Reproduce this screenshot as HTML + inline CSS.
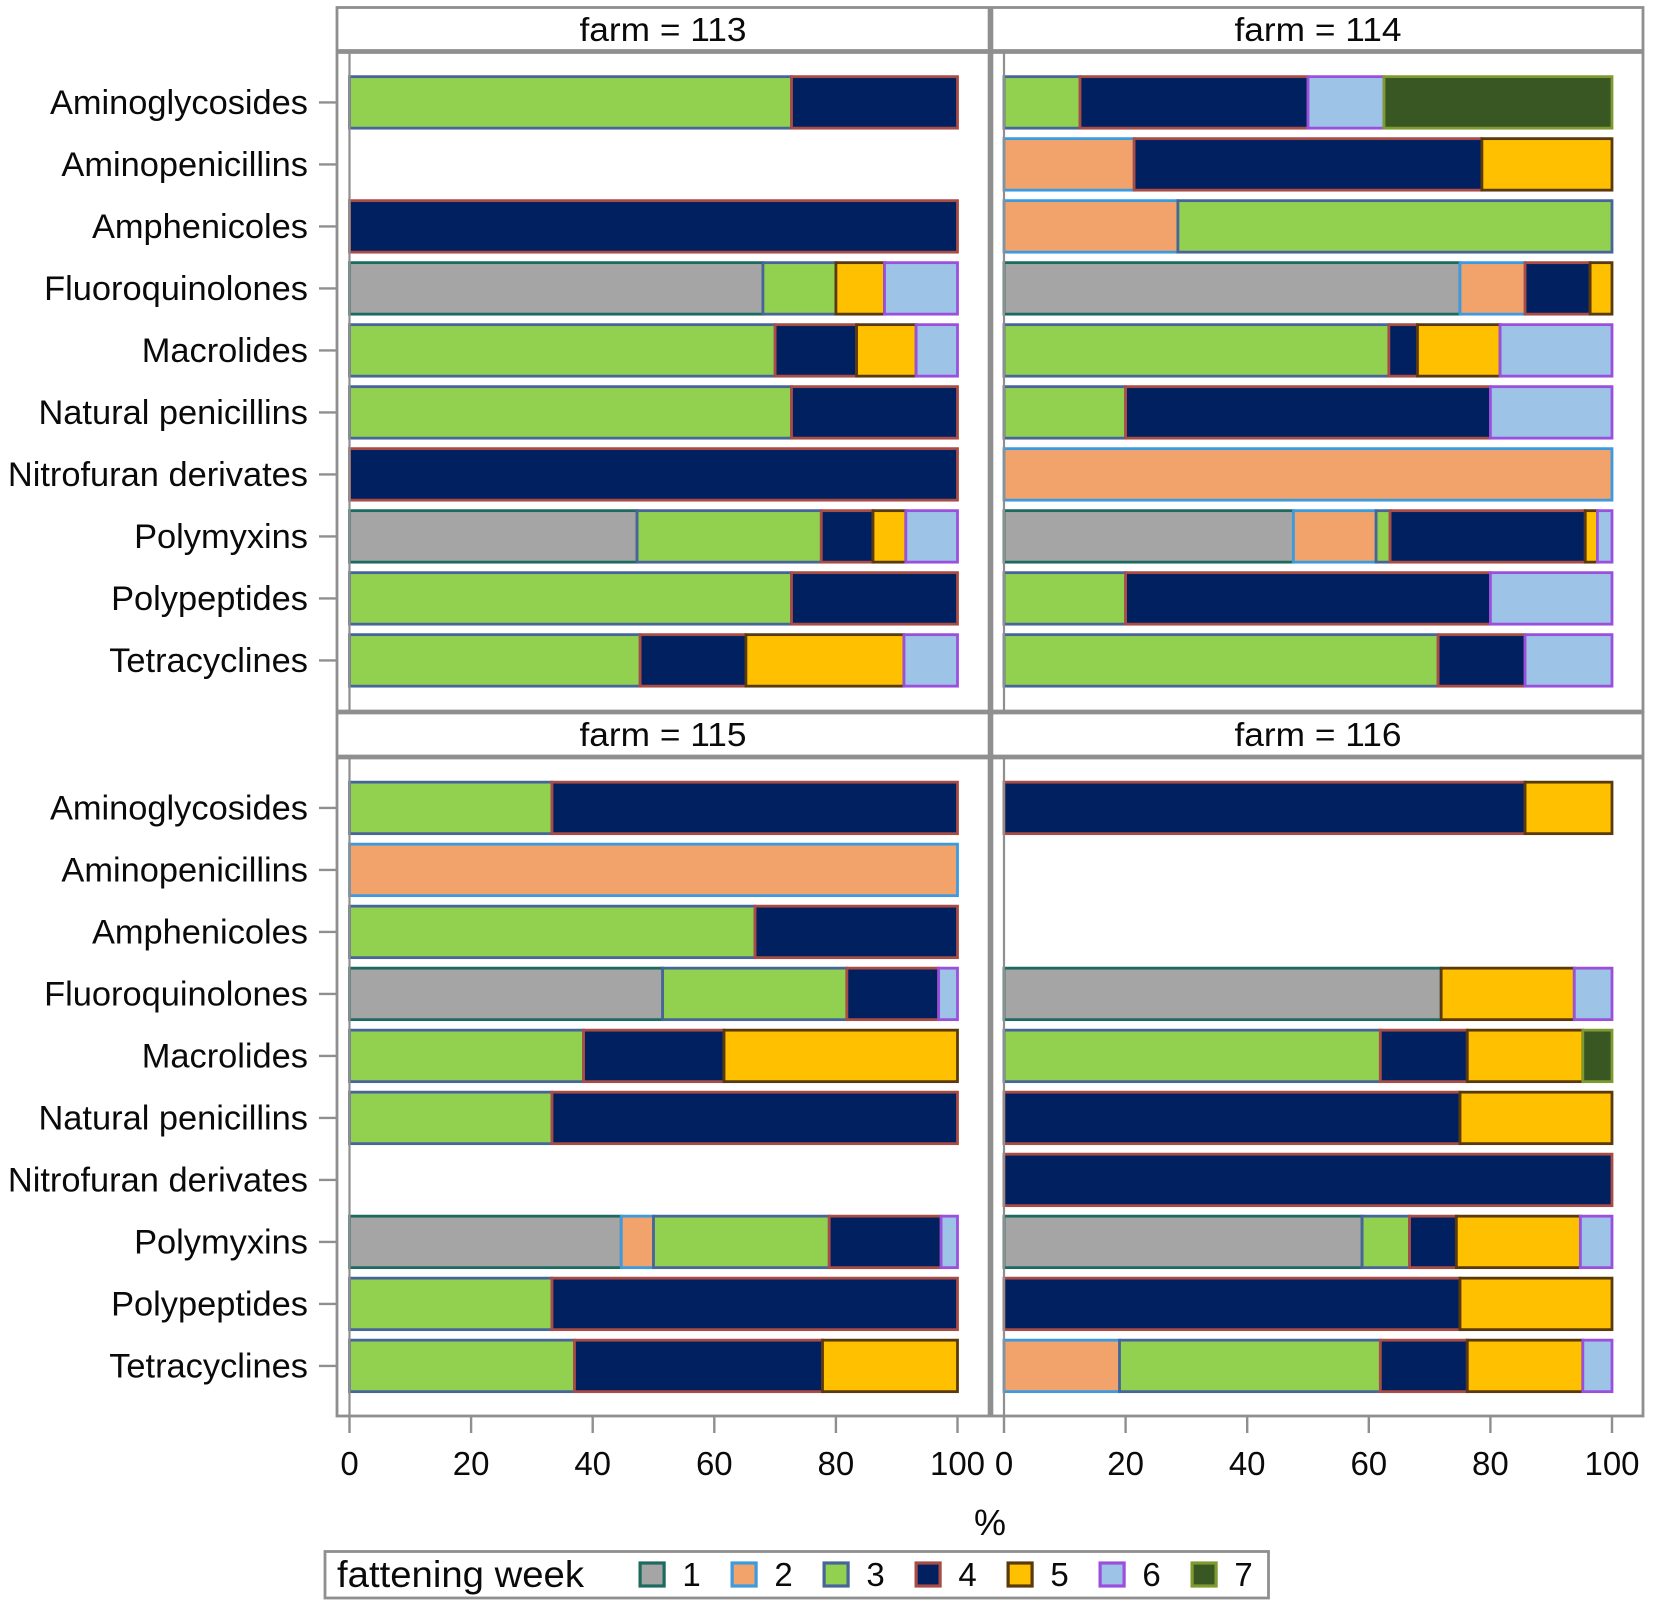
<!DOCTYPE html>
<html lang="en">
<head>
<meta charset="utf-8">
<title>Antibiotic use by fattening week and farm</title>
<style>
html,body{margin:0;padding:0;background:#fff;}
svg{display:block;}
text{font-family:"Liberation Sans",sans-serif;fill:#0a0a0a;}
</style>
</head>
<body>
<svg id="chart" xmlns="http://www.w3.org/2000/svg" width="1654" height="1609" viewBox="0 0 1654 1609">
  <rect x="0" y="0" width="1654" height="1609" fill="#ffffff"/>
  <g id="panels"></g>
  <g id="frame" fill="none" stroke="#8f8f8f">
    <rect x="337" y="7.5" width="1306" height="1408.5" stroke-width="2.8"/>
    <line x1="990.5" x2="990.5" y1="7" y2="1416" stroke-width="5.6"/>
    <line x1="336" x2="1644" y1="51.5" y2="51.5" stroke-width="4.8"/>
    <line x1="336" x2="1644" y1="712" y2="712" stroke-width="4.8"/>
    <line x1="336" x2="1644" y1="757" y2="757" stroke-width="4.8"/>
  </g>
  <text x="990" y="1535" font-size="36" text-anchor="middle">%</text>
  <g id="legend">
    <rect x="325" y="1551.5" width="943.5" height="46.5" fill="#fff" stroke="#8f8f8f" stroke-width="2.8"/>
    <text x="337" y="1587" font-size="37" textLength="247" lengthAdjust="spacingAndGlyphs">fattening week</text>
  </g>
</svg>
<script>
const categories = ["Aminoglycosides","Aminopenicillins","Amphenicoles","Fluoroquinolones","Macrolides","Natural penicillins","Nitrofuran derivates","Polymyxins","Polypeptides","Tetracyclines"];
const xTickValues = [0,20,40,60,80,100];
const weekLabels = ["1","2","3","4","5","6","7"];
const weekFills = ["#a5a5a5","#f2a36c","#92d050","#002060","#ffc000","#9dc3e6","#385723"];
const weekStrokes = ["#1c6a60","#3c9ade","#48659a","#a94c46","#5a3a0c","#9a50dc","#7f9a30"];

const farm113Week1 = [0,0,0,68,0,0,0,47.3,0,0];
const farm113Week2 = [0,0,0,0,0,0,0,0,0,0];
const farm113Week3 = [72.7,0,0,12,70,72.7,0,30.3,72.7,47.8];
const farm113Week4 = [27.3,0,100,0,13.4,27.3,100,8.5,27.3,17.4];
const farm113Week5 = [0,0,0,8,9.8,0,0,5.4,0,26];
const farm113Week6 = [0,0,0,12,6.8,0,0,8.5,0,8.8];
const farm113Week7 = [0,0,0,0,0,0,0,0,0,0];

const farm114Week1 = [0,0,0,75,0,0,0,47.6,0,0];
const farm114Week2 = [0,21.4,28.6,10.7,0,0,100,13.6,0,0];
const farm114Week3 = [12.5,0,71.4,0,63.3,20,0,2.3,20,71.4];
const farm114Week4 = [37.5,57.2,0,10.7,4.7,60,0,32.1,60,14.3];
const farm114Week5 = [0,21.4,0,3.6,13.6,0,0,2,0,0];
const farm114Week6 = [12.5,0,0,0,18.4,20,0,2.4,20,14.3];
const farm114Week7 = [37.5,0,0,0,0,0,0,0,0,0];

const farm115Week1 = [0,0,0,51.5,0,0,0,44.7,0,0];
const farm115Week2 = [0,100,0,0,0,0,0,5.3,0,0];
const farm115Week3 = [33.3,0,66.7,30.3,38.5,33.3,0,28.9,33.3,37];
const farm115Week4 = [66.7,0,33.3,15.1,23.1,66.7,0,18.4,66.7,40.8];
const farm115Week5 = [0,0,0,0,38.4,0,0,0,0,22.2];
const farm115Week6 = [0,0,0,3.1,0,0,0,2.7,0,0];
const farm115Week7 = [0,0,0,0,0,0,0,0,0,0];

const farm116Week1 = [0,0,0,71.9,0,0,0,58.9,0,0];
const farm116Week2 = [0,0,0,0,0,0,0,0,0,19];
const farm116Week3 = [0,0,0,0,61.9,0,0,7.8,0,42.9];
const farm116Week4 = [85.7,0,0,0,14.3,75,100,7.7,75,14.3];
const farm116Week5 = [14.3,0,0,21.9,19,25,0,20.4,25,19];
const farm116Week6 = [0,0,0,6.2,0,0,0,5.2,0,4.8];
const farm116Week7 = [0,0,0,0,4.8,0,0,0,0,0];

const farmNames = [113,114,115,116];
const farmSeries = [
  [farm113Week1,farm113Week2,farm113Week3,farm113Week4,farm113Week5,farm113Week6,farm113Week7],
  [farm114Week1,farm114Week2,farm114Week3,farm114Week4,farm114Week5,farm114Week6,farm114Week7],
  [farm115Week1,farm115Week2,farm115Week3,farm115Week4,farm115Week5,farm115Week6,farm115Week7],
  [farm116Week1,farm116Week2,farm116Week3,farm116Week4,farm116Week5,farm116Week6,farm116Week7]
];

const NS = "http://www.w3.org/2000/svg";
const GREY = "#8f8f8f";
const BAR_H = 51.5;
const X_ORIGIN = [349.5, 1004];
const X_SPAN = 608;
const ROW_ORIGIN = [102.4, 807.9];
const ROW_STEP = 62;
const PANEL_TOP = [53, 758];
const PANEL_BOTTOM = [711, 1416];
const HEADER_BASE = [41, 746];
const HEADER_CENTER = [663, 1318];

function xScale(col, v) { return X_ORIGIN[col] + v / 100 * X_SPAN; }
function yScale(row, i) { return ROW_ORIGIN[row] + ROW_STEP * i; }

function make(tag, attrs, parent, txt) {
  const el = document.createElementNS(NS, tag);
  for (const k in attrs) el.setAttribute(k, attrs[k]);
  if (txt !== undefined) el.textContent = txt;
  parent.appendChild(el);
  return el;
}

const panelsRoot = document.getElementById("panels");

farmNames.forEach(function (farm, p) {
  const col = p % 2;
  const row = p < 2 ? 0 : 1;
  const g = make("g", {}, panelsRoot);
  
  

  const title = make("text", {x: HEADER_CENTER[col], y: HEADER_BASE[row], "font-size": 33, "text-anchor": "middle", textLength: 167, lengthAdjust: "spacingAndGlyphs"}, g, "farm = " + farm);
  
  

  categories.forEach(function (cat, i) {
    let cum = 0;
    farmSeries[p].forEach(function (series, w) {
      const v = series[i];
      if (!v) return;
      const seg = make("rect", {
        x: xScale(col, cum),
        y: yScale(row, i) - BAR_H / 2,
        width: xScale(col, cum + v) - xScale(col, cum),
        height: BAR_H,
        fill: weekFills[w],
        stroke: weekStrokes[w],
        "stroke-width": 2.8
      }, g);
      
      
      cum += v;
    });
  });

  const axis = make("line", {x1: X_ORIGIN[col], x2: X_ORIGIN[col], y1: PANEL_TOP[row], y2: PANEL_BOTTOM[row], stroke: GREY, "stroke-width": 2.2}, g);
  
  

  if (col === 0) {
    categories.forEach(function (cat, i) {
      const tick = make("line", {x1: 319, x2: 337, y1: yScale(row, i), y2: yScale(row, i), stroke: GREY, "stroke-width": 2.4}, g);
      
      
      const label = make("text", {x: 308, y: yScale(row, i) + 11.8, "font-size": 34.4, "text-anchor": "end"}, g, cat);
      
      
    });
  }

  if (row === 1) {
    xTickValues.forEach(function (t) {
      const tick = make("line", {x1: xScale(col, t), x2: xScale(col, t), y1: 1416, y2: 1433, stroke: GREY, "stroke-width": 2.4}, g);
      
      
      const label = make("text", {x: xScale(col, t), y: 1475, "font-size": 33, "text-anchor": "middle"}, g, String(t));
      
      
    });
  }
});

const legendRoot = document.getElementById("legend");
weekLabels.forEach(function (w, i) {
  const entry = make("g", {}, legendRoot);
  
  
  const left = 638.5 + 92 * i;
  const sw = make("rect", {x: left + 1.6, y: 1563, width: 24, height: 23, fill: weekFills[i], stroke: weekStrokes[i], "stroke-width": 3.2}, entry);
  
  
  const lab = make("text", {x: left + 53, y: 1586, "font-size": 33, "text-anchor": "middle"}, entry, w);
  
  
});
</script>
</body>
</html>
